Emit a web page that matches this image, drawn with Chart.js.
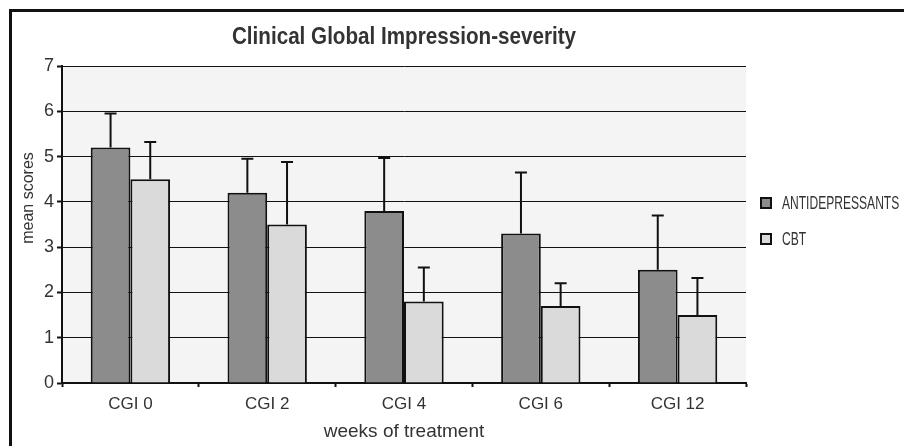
<!DOCTYPE html>
<html>
<head>
<meta charset="utf-8">
<script src="https://cdn.jsdelivr.net/npm/chart.js@4"></script>
<style>
	html, body { margin: 0; padding: 0; background: #fff; }
	#wrap { width: 904px; height: 446px; position: relative; }
</style>
</head>
<body>
<div id="wrap"><canvas id="cgi"></canvas></div>
<script>
// values
const categories = ['CGI 0', 'CGI 2', 'CGI 4', 'CGI 6', 'CGI 12'];
const antidepressants = [5.2, 4.2, 3.8, 3.3, 2.5];
const antidepressantsErr = [0.75, 0.75, 1.17, 1.35, 1.2];
const cbt = [4.5, 3.5, 1.8, 1.7, 1.5];
const cbtErr = [0.82, 1.38, 0.75, 0.5, 0.82];
const yTicks = [0, 1, 2, 3, 4, 5, 6, 7];

const chartTitle = 'Clinical Global Impression-severity';
const yTitle = 'mean scores';
const xTitle = 'weeks of treatment';

const INK = '#111';
const TEXT = '#333';
const SANS = '"Liberation Sans", Arial, sans-serif';

// draw text squeezed horizontally, the original uses a condensed face
function condensedText(ctx, text, x, y, squeeze, align) {
	ctx.save();
	ctx.translate(x, y);
	ctx.scale(squeeze, 1);
	ctx.textAlign = align;
	ctx.fillText(text, 0, 0);
	ctx.restore();
}

// light grey plot background plus the outer frame of the figure
const backdrop = {
	id: 'backdrop',
	beforeDraw(chart) {
		const ctx = chart.ctx;
		const a = chart.chartArea;
		ctx.save();
		ctx.fillStyle = '#f4f4f4';
		ctx.fillRect(a.left, a.top, a.right - a.left, a.bottom - a.top);
		ctx.strokeStyle = INK;
		ctx.lineWidth = 3;
		ctx.beginPath();
		ctx.moveTo(chart.width, 10.5);
		ctx.lineTo(10.5, 10.5);
		ctx.lineTo(10.5, chart.height);
		ctx.stroke();
		ctx.restore();
	}
};

// one-sided error bars (upwards only) with a short cap
const errorBars = {
	id: 'errorBars',
	afterDatasetsDraw(chart) {
		const ctx = chart.ctx;
		const y = chart.scales.y;
		ctx.save();
		ctx.strokeStyle = INK;
		ctx.lineWidth = 2;
		chart.data.datasets.forEach((ds, i) => {
			chart.getDatasetMeta(i).data.forEach((bar, j) => {
				const top = y.getPixelForValue(ds.data[j] + ds.errors[j]);
				ctx.beginPath();
				ctx.moveTo(bar.x, bar.y);
				ctx.lineTo(bar.x, top);
				ctx.moveTo(bar.x - 6, top);
				ctx.lineTo(bar.x + 6, top);
				ctx.stroke();
			});
		});
		ctx.restore();
	}
};

// title, y-axis title and the side legend
const annotations = {
	id: 'annotations',
	afterDraw(chart) {
		const ctx = chart.ctx;
		const a = chart.chartArea;
		ctx.save();
		ctx.fillStyle = TEXT;
		ctx.textBaseline = 'middle';

		// bold condensed title, centred over the plot
		ctx.font = 'bold 24px ' + SANS;
		condensedText(ctx, chartTitle, (a.left + a.right) / 2, 37, 0.86, 'center');

		// y-axis title, rotated
		ctx.font = '16px ' + SANS;
		ctx.save();
		ctx.translate(29, 198);
		ctx.rotate(-Math.PI / 2);
		ctx.textAlign = 'center';
		ctx.fillText(yTitle, 0, 0);
		ctx.restore();

		// legend
		const x = a.right + 15;
		let y = 203;
		chart.data.datasets.forEach((ds) => {
			ctx.fillStyle = ds.backgroundColor;
			ctx.fillRect(x, y - 5, 10, 10);
			ctx.strokeStyle = INK;
			ctx.lineWidth = 2;
			ctx.strokeRect(x, y - 5, 10, 10);
			ctx.fillStyle = TEXT;
			ctx.font = '18px ' + SANS;
			condensedText(ctx, ds.label, x + 21, y + 1, 0.67, 'left');
			y += 36;
		});
		ctx.restore();
	}
};

new Chart(document.getElementById('cgi'), {
	type: 'bar',
	data: {
		labels: categories,
		datasets: [
			{
				label: 'ANTIDEPRESSANTS',
				data: antidepressants,
				errors: antidepressantsErr,
				backgroundColor: '#8c8c8c',
				borderColor: INK,
				borderWidth: 2
			},
			{
				label: 'CBT',
				data: cbt,
				errors: cbtErr,
				backgroundColor: '#dadada',
				borderColor: INK,
				borderWidth: 2
			}
		]
	},
	options: {
		responsive: true,
		maintainAspectRatio: false,
		animation: false,
		devicePixelRatio: 1,
		categoryPercentage: 0.58,
		barPercentage: 1.0,
		layout: { padding: { left: 0, right: 158, top: 66, bottom: 0 } },
		plugins: {
			legend: { display: false },
			tooltip: { enabled: false },
			title: { display: false }
		},
		scales: {
			x: {
				afterFit: (s) => { s.height = 63; },
				border: { color: INK, width: 2 },
				grid: {
					offset: true,
					drawOnChartArea: false,
					drawTicks: true,
					tickLength: 4,
					tickColor: INK,
					tickWidth: 2
				},
				ticks: {
					color: TEXT,
					padding: 7,
					font: { family: SANS, size: 17 }
				},
				title: {
					display: true,
					text: xTitle,
					color: TEXT,
					font: { family: SANS, size: 19 },
					padding: { top: 0, bottom: 3 }
				}
			},
			y: {
				min: 0,
				max: 7,
				afterFit: (s) => { s.width = 62; },
				afterBuildTicks: (s) => { s.ticks = yTicks.map((v) => ({ value: v })); },
				border: { color: INK, width: 2 },
				grid: {
					color: INK,
					lineWidth: 1,
					tickLength: 5,
					tickColor: INK,
					tickWidth: 2
				},
				ticks: {
					color: TEXT,
					padding: 3,
					font: { family: SANS, size: 18 }
				}
			}
		}
	},
	plugins: [backdrop, errorBars, annotations]
});
</script>
</body>
</html>
